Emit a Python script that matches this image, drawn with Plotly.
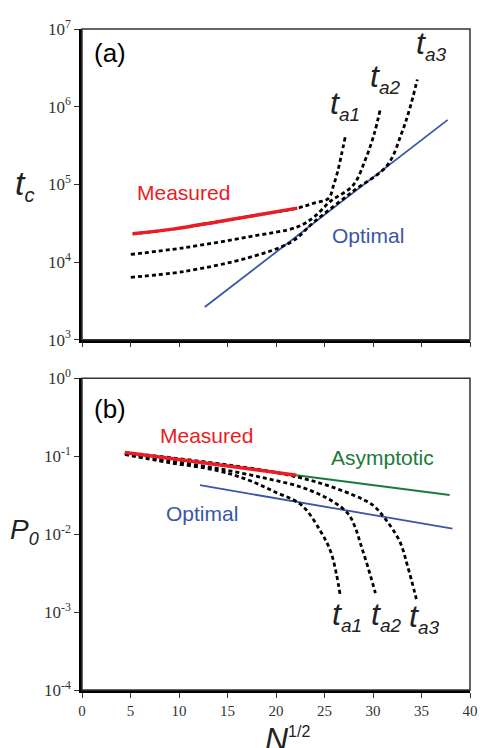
import plotly.graph_objects as go

# ---------------- data ----------------
# Panel (a): t_c vs N^{1/2}
meas_a_x = [5.23, 9.55, 13.87, 18.09, 22.2]
meas_a_y = [23070, 26700, 32800, 40300, 49400]

ta1_a_x = [5.23, 9.55, 13.87, 18.09, 22.2, 23.92, 25.43, 25.93, 26.33, 26.73, 27.14]
ta1_a_y = [23070, 26700, 32800, 40300, 49400, 57300, 66400, 97000, 142000, 234000, 408000]

ta2_a_x = [5.03, 10.55, 17.19, 22.21, 23.92, 25.63, 27.94, 29.25, 30.15, 30.75]
ta2_a_y = [12500, 15300, 21100, 28300, 38000, 60700, 97000, 214000, 459000, 929000]

ta3_a_x = [5.03, 10.55, 17.19, 21.61, 23.92, 27.94, 31.46, 32.96, 33.77, 34.57]
ta3_a_y = [6350, 7570, 11400, 18200, 32800, 81500, 175000, 459000, 929000, 2240000]

opt_a_x = [12.66, 37.7]
opt_a_y = [2630, 676000]

# Panel (b): P_0 vs N^{1/2}
meas_b_x = [4.42, 13.87, 22.11]
meas_b_y = [0.1116, 0.0785, 0.0570]

asym_b_x = [22.11, 37.9]
asym_b_y = [0.0570, 0.0318]

opt_b_x = [12.16, 38.19]
opt_b_y = [0.0425, 0.01175]

ta1_b_x = [4.42, 8.84, 13.87, 17.19, 19.90, 22.61, 24.62, 25.63, 26.23, 26.63]
ta1_b_y = [0.1052, 0.0833, 0.0659, 0.0492, 0.0347, 0.0237, 0.01076, 0.0060, 0.00306, 0.00161]

ta2_b_x = [4.42, 8.84, 13.87, 18.89, 22.91, 25.93, 27.44, 28.14, 28.74, 29.45, 30.25]
ta2_b_y = [0.1084, 0.0883, 0.0699, 0.0522, 0.0389, 0.0259, 0.0182, 0.01245, 0.00736, 0.00387, 0.00175]

ta3_b_x = [4.42, 13.87, 19.90, 24.22, 27.94, 29.95, 31.26, 32.76, 33.57, 34.47]
ta3_b_y = [0.1116, 0.0809, 0.0622, 0.0464, 0.0318, 0.0237, 0.01573, 0.00803, 0.00387, 0.00147]

x_ticks = [0, 5, 10, 15, 20, 25, 30, 35, 40]
ya_ticks = [1e3, 1e4, 1e5, 1e6, 1e7]
ya_text = ["10<sup>3</sup>", "10<sup>4</sup>", "10<sup>5</sup>", "10<sup>6</sup>", "10<sup>7</sup>"]
yb_ticks = [1e-4, 1e-3, 1e-2, 1e-1, 1e0]
yb_text = ["10<sup>-4</sup>", "10<sup>-3</sup>", "10<sup>-2</sup>", "10<sup>-1</sup>", "10<sup>0</sup>"]

# ---------------- style ----------------
RED = "#ec1c24"
BLUE = "#3a56a5"
GREEN = "#1a7a3a"
DASH = dict(color="black", width=2.8, dash="4px,3px")

fig = go.Figure()

def line(x, y, xa, ya, **ln):
    fig.add_trace(go.Scatter(x=x, y=y, mode="lines", line=ln, xaxis=xa, yaxis=ya,
                             hoverinfo="skip", showlegend=False, line_shape="spline"))

# panel a
line(opt_a_x, opt_a_y, "x", "y", color=BLUE, width=1.8)
line(ta1_a_x, ta1_a_y, "x", "y", **DASH)
line(ta2_a_x, ta2_a_y, "x", "y", **DASH)
line(ta3_a_x, ta3_a_y, "x", "y", **DASH)
line(meas_a_x, meas_a_y, "x", "y", color=RED, width=3.5)

# panel b
line(opt_b_x, opt_b_y, "x2", "y2", color=BLUE, width=1.8)
line(asym_b_x, asym_b_y, "x2", "y2", color=GREEN, width=2)
line(ta1_b_x, ta1_b_y, "x2", "y2", **DASH)
line(ta2_b_x, ta2_b_y, "x2", "y2", **DASH)
line(ta3_b_x, ta3_b_y, "x2", "y2", **DASH)
line(meas_b_x, meas_b_y, "x2", "y2", color=RED, width=3.5)

XFONT = dict(family="Liberation Serif", size=15, color="#333")
YFONT = dict(family="Liberation Serif", size=17, color="#333")
common_x = dict(range=[0, 40], tickvals=x_ticks, ticks="outside", ticklen=5, tickwidth=1.2,
                tickcolor="#333", showgrid=False, zeroline=False, showline=True,
                linecolor="black", linewidth=2.5, tickfont=XFONT)
common_y = dict(type="log", ticks="outside", ticklen=5, tickwidth=1.2, tickcolor="#333",
                showgrid=False, zeroline=False, showline=True, linecolor="black",
                linewidth=2.5, tickfont=YFONT)

# page body has an 8px margin -> figure shifted by 8px
fig.update_layout(
    width=479, height=740,
    margin=dict(l=74, r=9, t=14, b=58),
    paper_bgcolor="white", plot_bgcolor="white",
    xaxis=dict(domain=[0, 1], anchor="y", showticklabels=False, **common_x),
    yaxis=dict(domain=[0.530, 1], anchor="x", range=[3, 7], tickvals=ya_ticks,
               ticktext=ya_text, **common_y),
    xaxis2=dict(domain=[0, 1], anchor="y2", **common_x),
    yaxis2=dict(domain=[0, 0.4716], anchor="x2", range=[-4, 0], tickvals=yb_ticks,
                ticktext=yb_text, **common_y),
)

# frames (thin top/right)
for yd in ([0.530, 1], [0, 0.4716]):
    fig.add_shape(type="rect", xref="paper", yref="paper", x0=0, x1=1, y0=yd[0], y1=yd[1],
                  line=dict(color="#333", width=1.5), layer="above")

SANS = "Liberation Sans"

def ann(x, y, text, size, color="black", xref="x", yref="y"):
    fig.add_annotation(x=x, y=y, xref=xref, yref=yref, text=text, showarrow=False,
                       font=dict(family=SANS, size=size, color=color), xanchor="center",
                       yanchor="middle")

def tlab(sub):
    return "<i>t</i><sub><i><span style='font-size:19px'>%s</span></i></sub>" % sub

# panel labels
ann(2.91, 6.69, "(a)", 26)
ann(2.91, -0.394, "(b)", 26, xref="x2", yref="y2")

# panel a text
ann(10.45, 4.898, "Measured", 21, RED)
ann(29.45, 4.338, "Optimal", 21, BLUE)
ann(27.14, 6.02, tlab("a1"), 32, "#222")
ann(31.26, 6.37, tlab("a2"), 32, "#222")
ann(35.98, 6.79, tlab("a3"), 32, "#222")

# panel b text
ann(12.86, -0.737, "Measured", 21, RED, xref="x2", yref="y2")
ann(12.36, -1.740, "Optimal", 21, BLUE, xref="x2", yref="y2")
ann(30.95, -1.016, "Asymptotic", 21, GREEN, xref="x2", yref="y2")
ann(27.34, -3.05, tlab("a1"), 32, "#222", xref="x2", yref="y2")
ann(31.36, -3.05, tlab("a2"), 32, "#222", xref="x2", yref="y2")
ann(35.28, -3.075, tlab("a3"), 32, "#222", xref="x2", yref="y2")

# axis titles
fig.add_annotation(x=-0.179, y=0.799, xref="paper", yref="paper", showarrow=False,
                   text="<i>t</i><sub><i><span style='font-size:20px'>c</span></i></sub>",
                   font=dict(family=SANS, size=34, color="#222"))
fig.add_annotation(x=-0.191, y=0.21, xref="paper", yref="paper", showarrow=False,
                   text="<i>P</i><sub><i><span style='font-size:18px'>0</span></i></sub>",
                   font=dict(family=SANS, size=28, color="#222"))
fig.add_annotation(x=0.53, y=-0.074, xref="paper", yref="paper", showarrow=False,
                   text="<i>N</i><sup><span style='font-size:16px'>1/2</span></sup>",
                   font=dict(family=SANS, size=32, color="#222"), yanchor="middle")

fig.write_html("out.html")
